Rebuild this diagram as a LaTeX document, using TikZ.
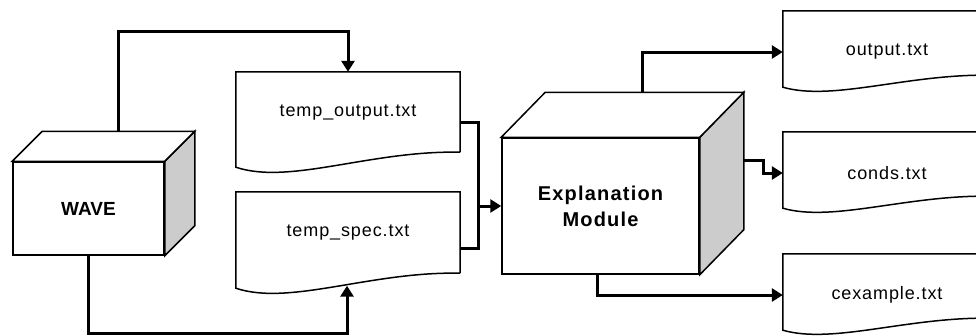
\documentclass[tikz,border=0pt]{standalone}
\usepackage{fontspec}
\setmainfont{Liberation Sans}
\newfontfamily\docfamily[LetterSpace=5]{Liberation Sans}
\newfontfamily\modfamily[LetterSpace=6]{Liberation Sans}
\newcommand\docfont{\docfamily\fontsize{18}{21}\selectfont}
\newcommand\wavefont{\fontsize{19}{24}\selectfont\bfseries}
\newcommand\modfont{\modfamily\fontsize{20}{26}\selectfont\bfseries}
\usetikzlibrary{calc,arrows.meta}
\definecolor{sidegray}{HTML}{CCCCCC}
\tikzset{
  shapeline/.style={line width=1.5pt, draw=black},
  conn/.style={line width=3pt, draw=black},
  arrowconn/.style={conn, -{Triangle[length=11pt,width=13pt]}},
  docbox/.style={draw=none, inner sep=0pt, font=\docfont},
  cubefront/.style={shapeline, fill=white, inner sep=0pt, align=center}
}
% cube faces: name, dx, dy
\newcommand\drawcubefaces[3]{%
  \draw[shapeline, fill=sidegray] (#1.north east) -- ++(#2,#3) -- ($(#1.south east)+(#2,#3)$) -- (#1.south east) -- cycle;
  \draw[shapeline, fill=white] (#1.north west) -- ++(#2,#3) -- ($(#1.north east)+(#2,#3)$) -- (#1.north east) -- cycle;
}
% document outline: name, inset, drop
\newcommand\drawdoc[3]{%
  \draw[shapeline] ($(#1.south east)+(0,-#2)$) -- (#1.north east) -- (#1.north west) -- ($(#1.south west)+(0,-#2+#3)$)
    .. controls ($(#1.south west)!0.24!(#1.south east)+(0,-#2+2.2*#3)$) and ($(#1.south west)!0.6!(#1.south east)+(0,-#2-0.13*#3)$) .. ($(#1.south east)+(0,-#2)$);
}
\begin{document}
\begin{tikzpicture}[x=1pt,y=-1pt]
\useasboundingbox (0,0) rectangle (976,335);
\clip (0,0) rectangle (976,335);
\fill[white] (0,0) rectangle (976,335);

% cubes
\node[cubefront, minimum width=151pt, minimum height=93pt, font=\wavefont] (wave) at (88.5,208.5) {WAVE};
\drawcubefaces{wave}{30}{-30}
\node[cubefront, minimum width=197pt, minimum height=136pt, font=\modfont] (emod) at (600.5,206) {Explanation\\Module};
\drawcubefaces{emod}{44}{-45}

% documents
\node[docbox, minimum width=224pt, minimum height=82pt] (tout) at (348,113) {temp\_output.txt};
\drawdoc{tout}{2}{15}
\node[docbox, minimum width=224pt, minimum height=82pt] (tspec) at (348,233) {temp\_spec.txt};
\drawdoc{tspec}{1}{15}
\node[docbox, minimum width=208pt, minimum height=82pt] (out) at (887,52) {output.txt};
\drawdoc{out}{18}{12}
\node[docbox, minimum width=208pt, minimum height=82pt] (conds) at (887,173) {conds.txt};
\drawdoc{conds}{18}{12}
\node[docbox, minimum width=208pt, minimum height=82pt] (cex) at (887,295) {cexample.txt};
\drawdoc{cex}{18}{12}

% connectors
\draw[arrowconn] ($(wave.north)+(30,-30)$) -- ++(0,-100) -| (tout.north);
\draw[arrowconn] (wave.south) -- ++(0,78) -| ($(tspec.south)+(-1,11.5)$);
\draw[conn] ($(tout.east)+(0,9)$) -- ++(18,0) |- ($(tspec.east)+(0,15)$);
\draw[arrowconn] ($(emod.west)+(-24,0)$) -- (emod.west);
\draw[arrowconn] ($(emod.north)+(42,-45)$) |- (out.west);
\draw[arrowconn] ($(emod.east)+(44,-46)$) -- ++(20,0) |- (conds.west);
\draw[arrowconn] ($(emod.south)+(-3,0)$) |- (cex.west);
\end{tikzpicture}
\end{document}
